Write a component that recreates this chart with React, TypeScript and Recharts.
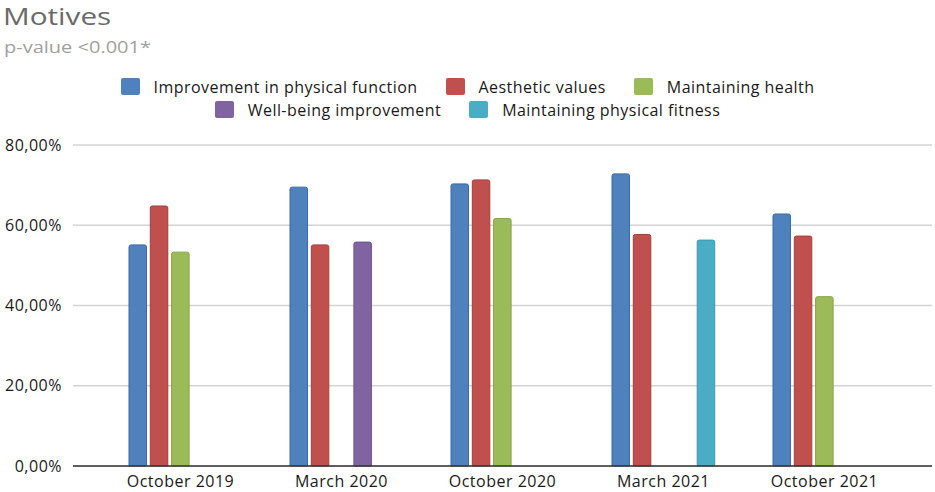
import React from "react";
import { BarChart, Bar, XAxis, YAxis, CartesianGrid, Legend } from "recharts";

const categories = ["October 2019", "March 2020", "October 2020", "March 2021", "October 2021"];
const improvement = [55.1, 69.5, 70.3, 72.8, 62.8];
const aesthetic = [64.8, 55.1, 71.3, 57.7, 57.3];
const health = [53.3, null, 61.7, null, 42.2];
const wellbeing = [null, 55.8, null, null, null];
const fitness = [null, null, null, 56.3, null];
const yTicks = [0, 20, 40, 60, 80];

const seriesNames = [
  "Improvement in physical function",
  "Aesthetic values",
  "Maintaining health",
  "Well-being improvement",
  "Maintaining physical fitness",
];
const seriesKeys = ["improvement", "aesthetic", "health", "wellbeing", "fitness"];
const fills = ["#4F81BD", "#C0504D", "#9BBB59", "#8064A2", "#4BACC6"];
const strokes = ["#3A6BA8", "#A63E3B", "#86A544", "#6C5190", "#3A97B0"];

const data = categories.map((c, i) => ({
  name: c,
  improvement: improvement[i],
  aesthetic: aesthetic[i],
  health: health[i],
  wellbeing: wellbeing[i],
  fitness: fitness[i],
}));

const FONT = "'Open Sans', sans-serif";

const LegendItem = ({ color, label }: { color: string; label: string }) => (
  <div style={{ display: "flex", alignItems: "center" }}>
    <div
      style={{
        width: 19,
        height: 17,
        background: color,
        borderRadius: 2,
        marginRight: 14,
      }}
    />
    <span style={{ fontSize: 16, letterSpacing: 0.45, color: "#1a1a1a", whiteSpace: "nowrap" }}>
      {label}
    </span>
  </div>
);

const CustomLegend = () => {
  const row1 = [0, 1, 2];
  const row2 = [3, 4];
  const rowStyle: React.CSSProperties = {
    display: "flex",
    justifyContent: "center",
    gap: 28,
    height: 23,
    alignItems: "center",
  };
  return (
    <div style={{ width: 935, height: 70, fontFamily: FONT, marginTop: -1 }}>
      <div style={rowStyle}>
        {row1.map((i) => (
          <LegendItem key={i} color={fills[i]} label={seriesNames[i]} />
        ))}
      </div>
      <div style={rowStyle}>
        {row2.map((i) => (
          <LegendItem key={i} color={fills[i]} label={seriesNames[i]} />
        ))}
      </div>
    </div>
  );
};

export default function App() {
  return (
    <div
      style={{
        position: "absolute",
        left: 0,
        top: 0,
        width: 935,
        height: 492,
        background: "#fff",
        fontFamily: FONT,
      }}
    >
      <div
        style={{
          position: "absolute",
          left: 3,
          top: 0,
          fontSize: 23,
          color: "#6a6a6a",
          transform: "scaleX(1.29)",
          transformOrigin: "left top",
          whiteSpace: "nowrap",
        }}
      >
        Motives
      </div>
      <div
        style={{
          position: "absolute",
          left: 4,
          top: 39,
          fontSize: 16,
          lineHeight: 1,
          color: "#a0a0a0",
          transform: "scaleX(1.25)",
          transformOrigin: "left top",
          whiteSpace: "nowrap",
        }}
      >
        p-value &lt;0.001*
      </div>
      <BarChart
        width={935}
        height={492}
        data={data}
        margin={{ top: 76, right: 3, bottom: 0, left: 0 }}
        barSize={17.5}
        barGap={3.8}
      >
        <Legend verticalAlign="top" align="center" content={<CustomLegend />} />
        <CartesianGrid vertical={false} stroke="#d4d4d4" strokeWidth={1.5} />
        <XAxis
          dataKey="name"
          height={26}
          padding={{ left: 27, right: 27 }}
          tickLine={false}
          tickSize={0}
          tickMargin={10}
          axisLine={{ stroke: "#333333", strokeWidth: 1.5 }}
          tick={{ fill: "#1a1a1a", fontSize: 16, fontFamily: FONT, letterSpacing: 0.5 }}
          interval={0}
        />
        <YAxis
          width={73}
          domain={[0, 80]}
          ticks={yTicks}
          axisLine={false}
          tickLine={false}
          tickSize={0}
          tickMargin={11}
          tickFormatter={(v: number) => `${v},00%`}
          tick={{ fill: "#1a1a1a", fontSize: 16, fontFamily: FONT, letterSpacing: 0.5 }}
        />
        {seriesKeys.map((k, i) => (
          <Bar
            key={k}
            dataKey={k}
            name={seriesNames[i]}
            fill={fills[i]}
            stroke={strokes[i]}
            strokeWidth={1}
            radius={[2, 2, 0, 0]}
            isAnimationActive={false}
          />
        ))}
      </BarChart>
    </div>
  );
}
